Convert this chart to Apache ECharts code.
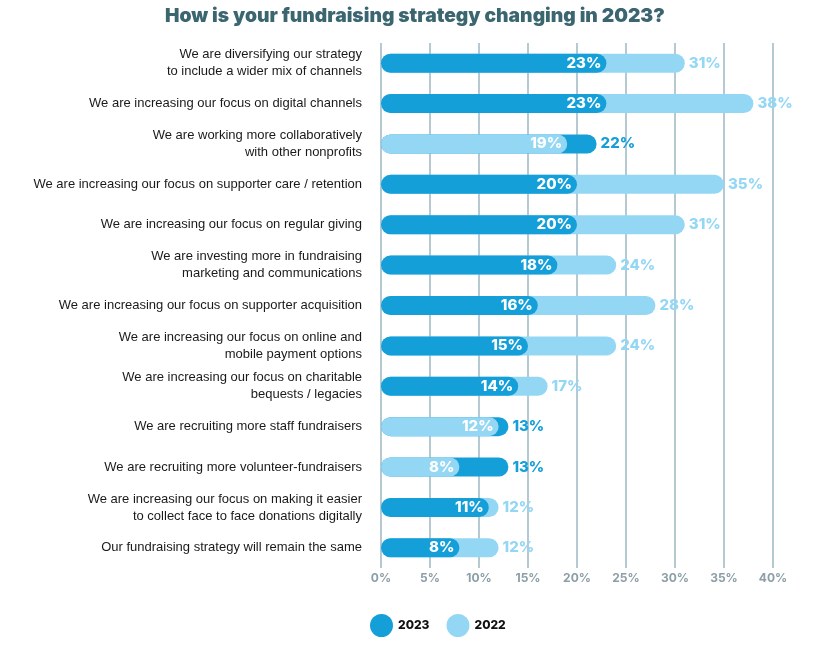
<!DOCTYPE html>
<html>
<head>
<meta charset="utf-8">
<script src="https://cdn.jsdelivr.net/npm/echarts@6/dist/echarts.min.js"></script>
<style>
html,body{margin:0;padding:0;background:#fff;}
#chart{width:823px;height:646px;}
</style>
</head>
<body>
<div id="chart"></div>
<script>
const categories = [
  "We are diversifying our strategy\nto include a wider mix of channels",
  "We are increasing our focus on digital channels",
  "We are working more collaboratively\nwith other nonprofits",
  "We are increasing our focus on supporter care / retention",
  "We are increasing our focus on regular giving",
  "We are investing more in fundraising\nmarketing and communications",
  "We are increasing our focus on supporter acquisition",
  "We are increasing our focus on online and\nmobile payment options",
  "We are increasing our focus on charitable\nbequests / legacies",
  "We are recruiting more staff fundraisers",
  "We are recruiting more volunteer-fundraisers",
  "We are increasing our focus on making it easier\nto collect face to face donations digitally",
  "Our fundraising strategy will remain the same"
];
const values2023 = [23, 23, 22, 20, 20, 18, 16, 15, 14, 13, 13, 11, 8];
const values2022 = [31, 38, 19, 35, 31, 24, 28, 24, 17, 12, 8, 12, 12];
const tickValues = [0, 5, 10, 15, 20, 25, 30, 35, 40];

const DARK = '#159fd9';
const LIGHT = '#94d7f5';
const labelFont = {fontFamily: 'Inter', fontWeight: 800, fontSize: 15};

function layer(values, other, front, color) {
  // front layer: values smaller than the other year; back layer: the rest
  return values.map((v, i) => {
    const isFront = v < other[i];
    if (isFront !== front) return '-';
    return {
      value: v,
      label: front
        ? Object.assign({show: true, position: 'insideRight', distance: 5, color: '#fff', formatter: '{c}%'}, labelFont)
        : Object.assign({show: true, position: 'right', distance: 4, color: color, formatter: '{c}%'}, labelFont)
    };
  });
}

function series(name, values, other, front, color) {
  return {
    name: name,
    type: 'bar',
    barWidth: 19,
    barGap: '-100%',
    z: front ? 4 : 2,
    itemStyle: {color: color, borderRadius: 10},
    data: layer(values, other, front, color)
  };
}

const chart = echarts.init(document.getElementById('chart'));
chart.setOption({
  animation: false,
  title: {
    text: 'How is your fundraising strategy changing in 2023?',
    left: 160,
    top: 2,
    textStyle: {fontFamily: 'Inter', fontWeight: 900, fontSize: 19.3, color: '#3b6670'}
  },
  legend: {
    data: ['2023', '2022'],
    bottom: 4,
    left: 365,
    icon: 'circle',
    itemWidth: 23,
    itemHeight: 23,
    itemGap: 17,
    textStyle: {fontFamily: 'Inter', fontWeight: 800, fontSize: 12, color: '#111'}
  },
  grid: {left: 381, right: 50, top: 43, bottom: 78},
  xAxis: {
    type: 'value',
    min: 0,
    max: 40,
    interval: 5,
    axisLine: {show: false},
    axisTick: {show: false},
    splitLine: {show: true, lineStyle: {color: '#b4c9d1', width: 2}},
    axisLabel: {
      margin: 4,
      fontFamily: 'Inter', fontWeight: 700, fontSize: 12, color: '#8c9ea7',
      formatter: v => tickValues.includes(v) ? v + '%' : ''
    }
  },
  yAxis: {
    type: 'category',
    inverse: true,
    data: categories,
    axisLine: {show: false},
    axisTick: {show: false},
    axisLabel: {
      margin: 19,
      fontFamily: 'Liberation Sans', fontSize: 13, color: '#1a1a1a', lineHeight: 17
    }
  },
  series: [
    series('2022', values2022, values2023, false, LIGHT),
    series('2023', values2023, values2022, false, DARK),
    series('2022', values2022, values2023, true, LIGHT),
    series('2023', values2023, values2022, true, DARK)
  ]
});
</script>
</body>
</html>
